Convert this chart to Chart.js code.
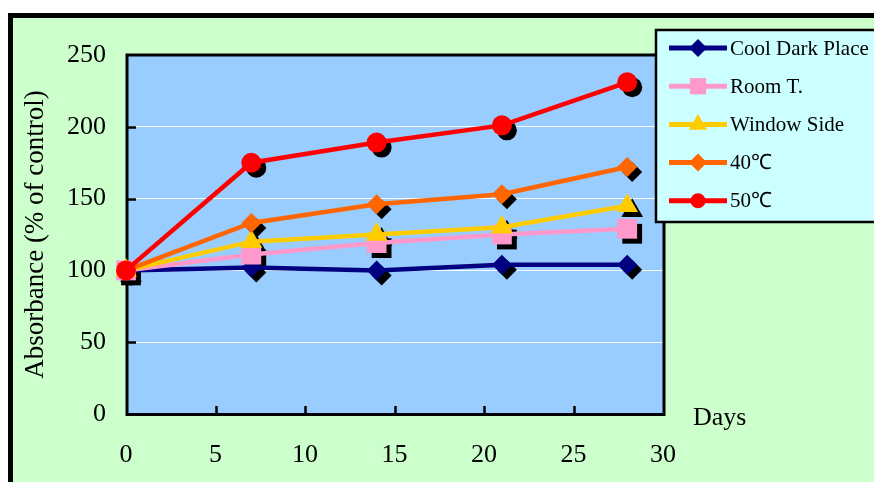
<!DOCTYPE html>
<html>
<head>
<meta charset="utf-8">
<script src="https://cdn.jsdelivr.net/npm/chart.js@4/dist/chart.umd.min.js"></script>
<style>
  html, body { margin: 0; padding: 0; background: #fff; }
  canvas { display: block; }
</style>
</head>
<body>
<canvas id="c" width="874" height="482"></canvas>
<script>
// Storage test: absorbance relative to control over four weeks
const days = [0, 7, 14, 21, 28];
const coolDark   = [100, 102, 100, 104, 104];
const roomTemp   = [100, 111, 119, 125, 129];
const windowSide = [100, 120, 125, 130, 145];
const temp40     = [100, 133, 146, 153, 172];
const temp50     = [100, 175, 189, 201, 231];

const seriesLabels = ['Cool Dark Place', 'Room T.', 'Window Side', '40\u2103', '50\u2103'];
const xTicks = [0, 5, 10, 15, 20, 25, 30];
const yTicks = [0, 50, 100, 150, 200, 250];
const xTitle = 'Days';
const yTitle = 'Absorbance (% of control)';

const SERIF = '"Liberation Serif", "Times New Roman", serif';
const styles = [
  { color: '#000080', shape: 'rectRot',  r: 10,   lr: 9 },
  { color: '#FF99CC', shape: 'rect',     r: 14,   lr: 11.5 },
  { color: '#FFCC00', shape: 'triangle', r: 12.5, lr: 10.5 },
  { color: '#FF6600', shape: 'rectRot',  r: 10,   lr: 9 },
  { color: '#FF0000', shape: 'circle',   r: 10,   lr: 7.5 }
];
const seriesValues = [coolDark, roomTemp, windowSide, temp40, temp50];

function drawMarker(ctx, shape, x, y, r, color) {
  ctx.beginPath();
  if (shape === 'circle') {
    ctx.arc(x, y, r, 0, Math.PI * 2);
  } else if (shape === 'rectRot') {
    ctx.moveTo(x - r, y); ctx.lineTo(x, y - r); ctx.lineTo(x + r, y); ctx.lineTo(x, y + r);
    ctx.closePath();
  } else if (shape === 'rect') {
    const s = r * Math.SQRT1_2;
    ctx.rect(x - s, y - s, 2 * s, 2 * s);
  } else if (shape === 'triangle') {
    ctx.moveTo(x, y - r);
    ctx.lineTo(x + r * Math.sin(2 * Math.PI / 3), y - r * Math.cos(2 * Math.PI / 3));
    ctx.lineTo(x + r * Math.sin(4 * Math.PI / 3), y - r * Math.cos(4 * Math.PI / 3));
    ctx.closePath();
  }
  ctx.fillStyle = color;
  ctx.fill();
}

// Background frame, plot fill, plot border, inward tick marks, marker shadows, legend
const decor = {
  id: 'decor',
  beforeDraw(chart) {
    const { ctx, width, height, chartArea: a } = chart;
    ctx.save();
    ctx.fillStyle = '#ffffff'; ctx.fillRect(0, 0, width, height);
    ctx.fillStyle = '#000000'; ctx.fillRect(8, 13, width, height);
    ctx.fillStyle = '#CCFFCC'; ctx.fillRect(13, 18, width, height);
    ctx.fillStyle = '#99CCFF'; ctx.fillRect(a.left, a.top, a.right - a.left, a.bottom - a.top);
    ctx.restore();
  },
  beforeDatasetsDraw(chart) {
    const { ctx, chartArea: a, scales } = chart;
    ctx.save();
    ctx.strokeStyle = '#000';
    ctx.lineWidth = 3;
    ctx.strokeRect(a.left + 1, a.top, a.right - a.left, a.bottom - a.top + 0.5);
    ctx.lineWidth = 2.5;
    ctx.beginPath();
    yTicks.slice(1, -1).forEach(v => {
      const y = Math.round(scales.y.getPixelForValue(v)) + 0.5;
      ctx.moveTo(a.left, y); ctx.lineTo(a.left + 10, y);
    });
    xTicks.slice(1, -1).forEach(v => {
      const x = Math.round(scales.x.getPixelForValue(v)) + 0.5;
      ctx.moveTo(x, a.bottom); ctx.lineTo(x, a.bottom - 8);
    });
    ctx.stroke();
    // drop shadows of every marker, beneath all series
    chart.data.datasets.forEach((ds, i) => {
      const st = styles[i];
      chart.getDatasetMeta(i).data.forEach(el =>
        drawMarker(ctx, st.shape, el.x + 5, el.y + 5, st.r, '#000'));
    });
    ctx.restore();
  },
  afterDraw(chart) {
    const { ctx, width, chartArea: a } = chart;
    ctx.save();
    // axis title at the right end of the x axis
    ctx.font = '26px ' + SERIF;
    ctx.fillStyle = '#000';
    ctx.textAlign = 'left';
    ctx.textBaseline = 'middle';
    ctx.fillText(xTitle, a.right + 30, a.bottom + 4);

    // legend box
    const bx = 656, by = 30, bh = 192;
    ctx.fillStyle = '#CCFFFF';
    ctx.fillRect(bx, by, width, bh);
    ctx.strokeStyle = '#000';
    ctx.lineWidth = 2.5;
    ctx.strokeRect(bx, by, width, bh);
    ctx.font = '21px ' + SERIF;
    chart.data.datasets.forEach((ds, i) => {
      const st = styles[i];
      const y = 48 + i * 38.2;
      ctx.strokeStyle = st.color;
      ctx.lineWidth = 5;
      ctx.beginPath(); ctx.moveTo(669, y); ctx.lineTo(727, y); ctx.stroke();
      drawMarker(ctx, st.shape, 698, y, st.lr, st.color);
      ctx.fillStyle = '#000';
      ctx.fillText(ds.label, 730, y + 1);
    });
    ctx.restore();
  }
};

const datasets = seriesValues.map((vals, i) => ({
  label: seriesLabels[i],
  data: days.map((d, k) => ({ x: d, y: vals[k] })),
  borderColor: styles[i].color,
  backgroundColor: styles[i].color,
  borderWidth: 4.5,
  pointStyle: styles[i].shape,
  pointRadius: styles[i].r,
  pointBackgroundColor: styles[i].color,
  pointBorderWidth: 0,
  tension: 0,
  clip: false,
  order: seriesValues.length - i
}));

new Chart(document.getElementById('c'), {
  type: 'line',
  data: { datasets },
  plugins: [decor],
  options: {
    responsive: false,
    animation: false,
    devicePixelRatio: 1,
    layout: { padding: { top: 55, right: 211, bottom: 0, left: 0 } },
    plugins: { legend: { display: false }, tooltip: { enabled: false } },
    scales: {
      x: {
        type: 'linear',
        min: 0, max: 30,
        afterFit(scale) { scale.height = 68; },
        afterBuildTicks(scale) { scale.ticks = xTicks.map(v => ({ value: v })); },
        grid: { display: false, drawTicks: false },
        border: { display: false },
        ticks: { font: { family: SERIF, size: 26 }, color: '#000', padding: 26, maxRotation: 0 }
      },
      y: {
        min: 0, max: 250,
        afterFit(scale) { scale.width = 126; },
        afterBuildTicks(scale) { scale.ticks = yTicks.map(v => ({ value: v })); },
        grid: { color: '#ffffff', lineWidth: 1, drawTicks: false },
        border: { display: false },
        ticks: { font: { family: SERIF, size: 26 }, color: '#000', padding: 20 },
        title: {
          display: true,
          text: yTitle,
          font: { family: SERIF, size: 27 },
          color: '#000',
          padding: { top: 20, bottom: 0 }
        }
      }
    }
  }
});
</script>
</body>
</html>
